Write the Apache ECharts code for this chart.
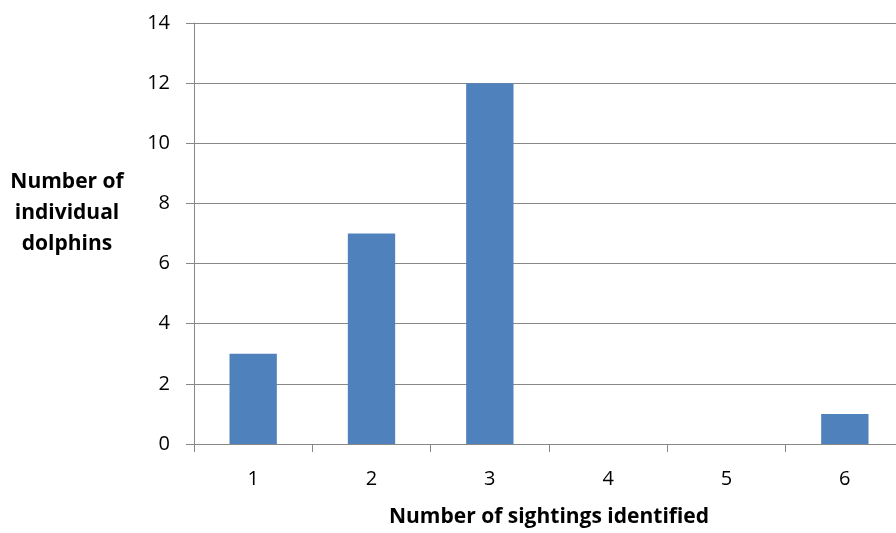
<!DOCTYPE html>
<html>
<head>
<meta charset="utf-8">
<script src="https://cdn.jsdelivr.net/npm/echarts@6/dist/echarts.min.js"></script>
<style>
html,body{margin:0;padding:0;background:#fff;overflow:hidden;}
#wrap{position:relative;width:896px;height:533px;overflow:hidden;}
#c{position:absolute;left:0;top:0;width:904px;height:533px;}
</style>
</head>
<body>
<div id="wrap"><div id="c"></div></div>
<script>
var categories = ['1', '2', '3', '4', '5', '6'];
var dolphins = [3, 7, 12, 0, 0, 1];
var yTicks = [0, 2, 4, 6, 8, 10, 12, 14];
var xTitle = 'Number of sightings identified';
var yTitle = 'Number of\nindividual\ndolphins';

var chart = echarts.init(document.getElementById('c'), null, {renderer: 'canvas', width: 904, height: 533});
var font = '"Open Sans", "Liberation Sans", sans-serif';
chart.setOption({
  animation: false,
  backgroundColor: '#ffffff',
  grid: {left: 194, right: 0, top: 23, bottom: 87, containLabel: false},
  xAxis: {
    type: 'category',
    data: categories,
    name: xTitle,
    nameLocation: 'middle',
    nameGap: 63,
    nameTextStyle: {fontFamily: font, fontWeight: 'bold', fontSize: 21, color: '#000'},
    axisLine: {lineStyle: {color: '#888888', width: 1}},
    axisTick: {show: true, length: 8, alignWithLabel: false, lineStyle: {color: '#888888'}},
    axisLabel: {margin: 25, fontFamily: font, fontSize: 20, color: '#000'},
    splitLine: {show: false}
  },
  yAxis: {
    type: 'value',
    min: yTicks[0],
    max: yTicks[yTicks.length - 1],
    interval: 2,
    axisLine: {show: true, lineStyle: {color: '#888888', width: 1}},
    axisTick: {show: true, length: 8, lineStyle: {color: '#888888'}},
    axisLabel: {margin: 24, fontFamily: font, fontSize: 20, color: '#000'},
    splitLine: {show: true, lineStyle: {color: '#888888', width: 1}}
  },
  graphic: [{
    type: 'text',
    x: 67, y: 213,
    style: {
      text: yTitle,
      textAlign: 'center', textVerticalAlign: 'middle',
      font: 'bold 21px ' + font,
      lineHeight: 31,
      fill: '#000'
    }
  }],
  series: [{
    type: 'bar',
    data: dolphins,
    barWidth: '40%',
    itemStyle: {color: '#4F81BD'}
  }]
});
</script>
</body>
</html>
